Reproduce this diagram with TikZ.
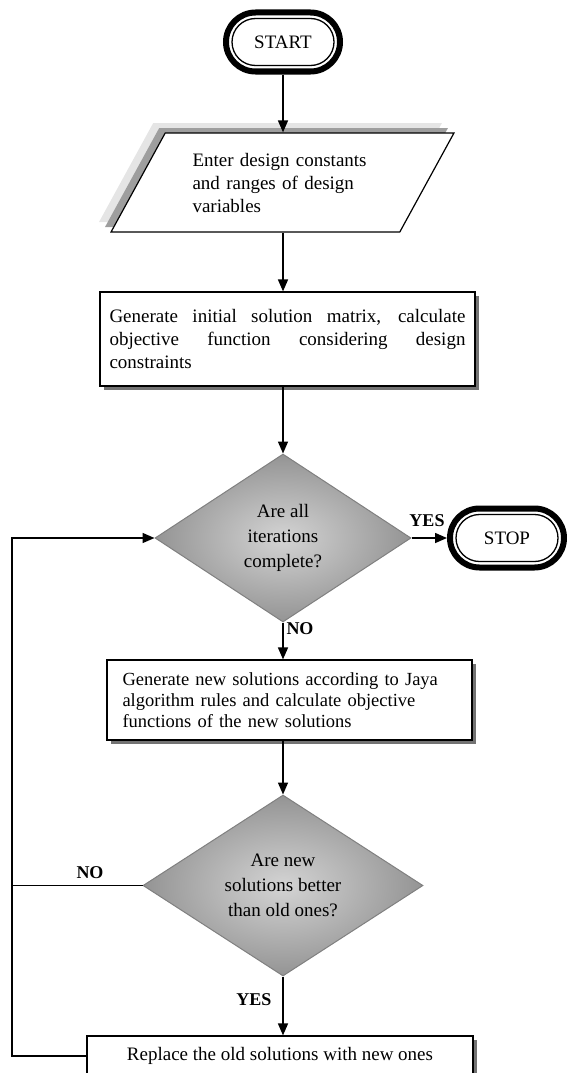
\documentclass[tikz,border=0pt]{standalone}
\usepackage{fontspec}
\setmainfont{Liberation Serif}
\usetikzlibrary{arrows.meta,shapes.geometric,shapes.misc,shadows}
\begin{document}
\begin{tikzpicture}[x=1pt,y=-1pt,
  font=\fontsize{19}{23}\selectfont,
  term/.style={rounded rectangle, draw, line width=6pt, minimum width=114pt, minimum height=59pt, inner sep=0pt},
  termin/.style={rounded rectangle, draw, line width=1.3pt, minimum width=102pt, minimum height=47pt, inner sep=0pt},
  iobox/.style={trapezium, trapezium left angle=55, trapezium right angle=125, trapezium stretches=true,
     minimum width=343pt, minimum height=99pt, draw, line width=1.2pt, fill=white, inner sep=0pt,
     general shadow={shadow xshift=-12pt, shadow yshift=10pt, fill=black!10},
     general shadow={shadow xshift=-6pt, shadow yshift=5pt, fill=black!38},
     text width=180pt, align=left},
  procbox/.style={rectangle, draw, line width=1.2pt, fill=white, inner sep=0pt,
     drop shadow={shadow xshift=4pt, shadow yshift=-4pt, fill=black!55, opacity=1}},
  decbox/.style={diamond, draw=black!50, line width=1pt, shading=radial, inner color=black!17, outer color=black!42,
     inner sep=0pt, shape aspect=1.55, align=center, font=\fontsize{19}{25}\selectfont},
  conn/.style={line width=1.5pt},
  arr/.style={conn, -{Triangle[length=12pt,width=10pt]}},
  lbl/.style={font=\fontsize{18}{20}\selectfont\bfseries, inner sep=0pt}
]
\useasboundingbox (0,0) rectangle (566,1073);

% START
\node[term] (start) at (283,42) {};
\node[termin] (startin) at (283,42) {START};

% input
\node[iobox] (inp) at (282.5,182.5) {Enter design constants and ranges of design variables};

% process 1
\node[procbox, minimum width=375pt, minimum height=94pt, text width=356pt, align=justify] (p1) at (287.5,339)
  {Generate initial solution matrix, calculate\linebreak objective function considering design\linebreak constraints};

% decision 1
\node[decbox, minimum width=256pt, minimum height=168pt] (d1) at (283,538) {Are all\\iterations\\complete?};

% STOP
\node[term] (stop) at (507,538) {};
\node[termin] (stopin) at (507,538) {STOP};

% process 2
\node[procbox, minimum width=365pt, minimum height=80pt, text width=334pt, align=left,
  font=\fontsize{18.5}{21}\selectfont] (p2) at (289.5,700)
  {Generate new solutions according to Jaya\\algorithm rules and calculate objective\\functions of the new solutions};

% decision 2
\node[decbox, minimum width=280pt, minimum height=181pt] (d2) at (283,885.5) {Are new\\solutions better\\than old ones?};

% process 3
\node[procbox, minimum width=386pt, minimum height=40pt] (p3) at (280,1056) {Replace the old solutions with new ones};

% loop coordinate
\coordinate (lx) at (12,538);

% connectors
\draw[arr] (start.south) -- (inp.north -| start.south);
\draw[arr] (inp.south -| start.south) -- (p1.north -| start.south);
\draw[arr] (p1.south -| d1.north) -- (d1.north);
\draw[arr] (d1.east) -- (stop.west);
\draw[arr] (d1.south) -- (p2.north -| d1.south);
\draw[arr] (p2.south -| d2.north) -- (d2.north);
\draw[arr] (d2.south) -- (p3.north -| d2.south);
\draw[arr] (p3.west) -| (lx) -- (d1.west);
\draw[conn] (d2.west) -- (d2.west -| lx);

% labels
\node[lbl] (yes1) at (427,521) {YES};
\node[lbl] (no1) at (300,629) {NO};
\node[lbl] (no2) at (90,873) {NO};
\node[lbl] (yes2) at (254,1000) {YES};
\end{tikzpicture}
\end{document}
